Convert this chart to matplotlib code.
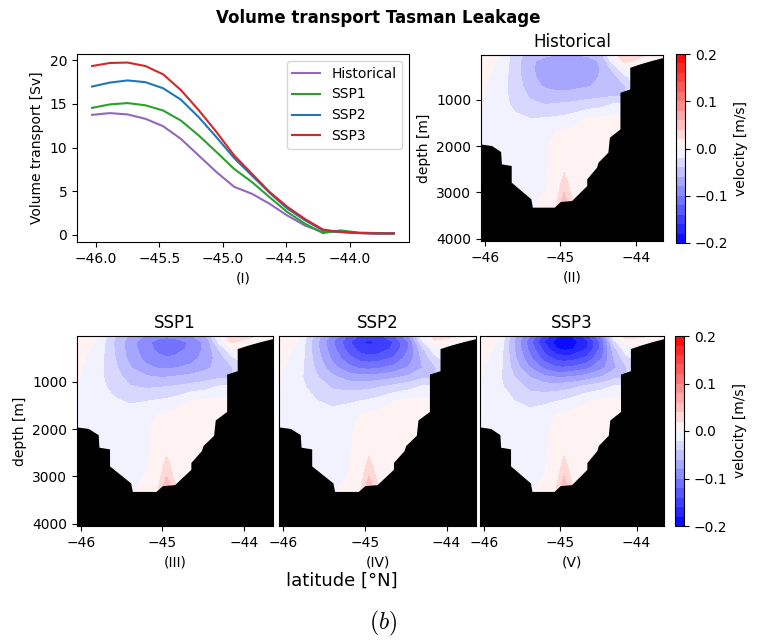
import numpy as np
import matplotlib.pyplot as plt

plt.rcParams['mathtext.fontset'] = 'cm'

# ---- volume transport along the section ----
lat_line = [-46.03, -45.89, -45.75, -45.61, -45.47, -45.33, -45.19, -45.05, -44.91,
            -44.77, -44.63, -44.49, -44.35, -44.21, -44.07, -43.93, -43.79, -43.65]
transport = {
    'Historical': [13.75, 13.95, 13.8, 13.3, 12.45, 11.0, 9.1, 7.2, 5.5,
                   4.7, 3.55, 2.2, 1.05, 0.3, 0.35, 0.2, 0.15, 0.15],
    'SSP1': [14.55, 14.95, 15.1, 14.85, 14.25, 13.1, 11.4, 9.5, 7.55,
             6.05, 4.3, 2.6, 1.25, 0.2, 0.5, 0.25, 0.2, 0.15],
    'SSP2': [17.0, 17.45, 17.7, 17.5, 16.8, 15.5, 13.5, 11.2, 8.8,
             6.8, 4.8, 3.0, 1.65, 0.5, 0.35, 0.2, 0.15, 0.15],
    'SSP3': [19.35, 19.7, 19.75, 19.35, 18.4, 16.6, 14.3, 11.8, 9.1,
             7.0, 4.9, 3.2, 1.8, 0.6, 0.3, 0.2, 0.15, 0.15],
}
line_colors = {'Historical': 'tab:purple', 'SSP1': 'tab:green',
               'SSP2': 'tab:blue', 'SSP3': 'tab:red'}

# ---- velocity section, m/s (rows = depth, columns = latitude) ----
lats = [-46.05, -45.8, -45.6, -45.4, -45.2, -45.05, -44.95, -44.85, -44.65,
        -44.45, -44.3, -44.15, -43.9, -43.65]
depths = [30, 150, 300, 500, 700, 900, 1100, 1400, 1700, 2000, 2400, 2800, 3200, 3600, 4100]
vel_hist = np.array([
    [0.015, 0.001, -0.030, -0.050, -0.056, -0.060, -0.061, -0.061, -0.057, -0.045, 0.008, 0.040, 0.022, 0.010],
    [0.013, -0.002, -0.031, -0.055, -0.068, -0.076, -0.078, -0.077, -0.070, -0.056, -0.008, 0.028, 0.012, 0.006],
    [0.010, -0.006, -0.031, -0.056, -0.070, -0.077, -0.079, -0.078, -0.072, -0.058, -0.033, 0.002, 0.000, 0.000],
    [0.007, -0.009, -0.030, -0.055, -0.069, -0.076, -0.078, -0.077, -0.071, -0.057, -0.048, -0.025, 0.000, 0.000],
    [0.004, -0.011, -0.029, -0.050, -0.063, -0.068, -0.068, -0.067, -0.062, -0.055, -0.048, -0.042, 0.000, 0.000],
    [0.002, -0.012, -0.027, -0.043, -0.050, -0.052, -0.052, -0.050, -0.047, -0.045, -0.043, -0.042, 0.000, 0.000],
    [0.001, -0.011, -0.025, -0.036, -0.040, -0.038, -0.037, -0.036, -0.032, -0.027, -0.018, -0.015, 0.000, 0.000],
    [-0.001, -0.008, -0.016, -0.020, -0.019, -0.017, -0.015, -0.012, 0.001, 0.004, 0.006, 0.005, 0.000, 0.000],
    [-0.004, -0.007, -0.010, -0.010, -0.007, 0.001, 0.004, 0.006, 0.007, 0.007, 0.006, 0.005, 0.000, 0.000],
    [-0.005, -0.006, -0.007, -0.006, -0.002, 0.004, 0.006, 0.007, 0.008, 0.008, 0.006, 0.005, 0.000, 0.000],
    [-0.005, -0.005, -0.005, -0.005, -0.002, 0.005, 0.014, 0.008, 0.008, 0.007, 0.005, 0.005, 0.000, 0.000],
    [-0.004, -0.004, -0.004, -0.004, -0.001, 0.008, 0.028, 0.012, 0.008, 0.006, 0.005, 0.005, 0.000, 0.000],
    [-0.003, -0.003, -0.003, -0.002, 0.002, 0.018, 0.052, 0.022, 0.010, 0.006, 0.005, 0.005, 0.000, 0.000],
    [-0.002, -0.002, -0.002, 0.000, 0.004, 0.024, 0.062, 0.028, 0.010, 0.006, 0.005, 0.005, 0.000, 0.000],
    [-0.002, -0.002, -0.002, 0.000, 0.004, 0.024, 0.062, 0.028, 0.010, 0.006, 0.005, 0.005, 0.000, 0.000],
])
# change of the surface jet under the strongest scenario (SSP3 minus historical)
jet_change = np.array([
    [0.0, 0.0, -0.025, -0.050, -0.094, -0.115, -0.122, -0.119, -0.093, -0.045, -0.018, -0.010, 0.0, 0.0],
    [0.0, 0.0, -0.031, -0.057, -0.094, -0.114, -0.117, -0.113, -0.095, -0.054, -0.022, -0.018, 0.0, 0.0],
    [0.0, 0.0, -0.029, -0.049, -0.080, -0.101, -0.106, -0.105, -0.088, -0.052, -0.017, -0.012, 0.0, 0.0],
    [0.0, 0.0, -0.025, -0.040, -0.061, -0.071, -0.072, -0.071, -0.064, -0.043, -0.012, -0.005, 0.0, 0.0],
    [0.0, -0.002, -0.019, -0.030, -0.042, -0.049, -0.050, -0.049, -0.043, -0.030, -0.017, -0.003, 0.0, 0.0],
    [0.0, -0.005, -0.013, -0.017, -0.025, -0.028, -0.028, -0.028, -0.023, -0.013, -0.002, 0.0, 0.0, 0.0],
    [0.0, -0.005, -0.005, -0.009, -0.010, -0.012, -0.011, -0.009, -0.003, 0.0, 0.0, 0.0, 0.0, 0.0],
    [0.0, -0.004, -0.004, -0.010, -0.006, -0.004, -0.003, -0.002, -0.002, 0.0, 0.0, 0.0, 0.0, 0.0],
] + [[0.0] * 14] * 7)
scenarios = ['Historical', 'SSP1', 'SSP2', 'SSP3']
jet_weight = [0.0, 0.28, 0.73, 1.0]

# sea floor along the section
bathy_lat = [-46.06, -45.91, -45.79, -45.78, -45.65, -45.65, -45.39, -45.37, -45.08, -45.00,
             -44.85, -44.65, -44.65, -44.52, -44.50, -44.37, -44.35, -44.21, -44.21, -44.08,
             -44.08, -43.95, -43.80, -43.63]
bathy_depth = [1950, 1986, 2116, 2382, 2418, 2778, 3138, 3318, 3318, 3196,
               3174, 2850, 2706, 2454, 2346, 2130, 1806, 1626, 834, 762,
               294, 222, 150, 78]

levels = np.linspace(-0.2, 0.2, 21)
W, H = 757, 643


def box(l, t, r, b):
    return [l / W, 1 - b / H, (r - l) / W, (b - t) / H]


def section(ax, field, label, title, show_y=True):
    cs = ax.contourf(lats, depths, np.clip(field, -0.199, 0.199), levels=levels, cmap='bwr')
    ax.fill_between(bathy_lat, bathy_depth, 4300, color='k', lw=0)
    ax.set_xlim(-46.05, -43.64)
    ax.set_ylim(4050, 28)
    ax.set_xticks([-46, -45, -44])
    ax.set_yticks([1000, 2000, 3000, 4000])
    ax.set_title(title, fontsize=12)
    ax.set_xlabel(label)
    if show_y:
        ax.set_ylabel('depth [m]')
    else:
        ax.tick_params(left=False, labelleft=False)
    return cs


fig = plt.figure(figsize=(W / 100, H / 100), dpi=100)
fig.suptitle('Volume transport Tasman Leakage', fontsize=12, fontweight='bold', y=0.972, va='center')

ax1 = fig.add_axes(box(77, 54, 409, 242))
for name in scenarios:
    ax1.plot(lat_line, transport[name], color=line_colors[name], label=name)
ax1.set_ylabel('Volume transport [Sv]')
ax1.set_xlabel('(I)')
ax1.set_yticks([0, 5, 10, 15, 20])
ax1.legend(loc='upper right')

fields = [vel_hist + w * jet_change for w in jet_weight]

ax2 = fig.add_axes(box(481, 55, 663, 241))
cs = section(ax2, fields[0], '(II)', 'Historical')
cax1 = fig.add_axes(box(676, 54, 685, 243))
cb = fig.colorbar(cs, cax=cax1, ticks=[-0.2, -0.1, 0, 0.1, 0.2])
cb.set_label('velocity [m/s]')

bottom_boxes = [box(77, 336, 273, 526), box(279, 336, 476, 526), box(480, 336, 664, 526)]
romans = ['(III)', '(IV)', '(V)']
for i in range(3):
    ax = fig.add_axes(bottom_boxes[i])
    cs = section(ax, fields[i + 1], romans[i], scenarios[i + 1], show_y=(i == 0))
cax2 = fig.add_axes(box(675, 336, 684, 526))
cb = fig.colorbar(cs, cax=cax2, ticks=[-0.2, -0.1, 0, 0.1, 0.2])
cb.set_label('velocity [m/s]')

fig.text(342 / W, 1 - 581 / H, 'latitude [°N]', fontsize=13, ha='center', va='center')
fig.text(383 / W, 1 - 623 / H, r'$\mathit{(b)}$', fontsize=17, ha='center', va='center')

fig.savefig('out.png', dpi=100)
